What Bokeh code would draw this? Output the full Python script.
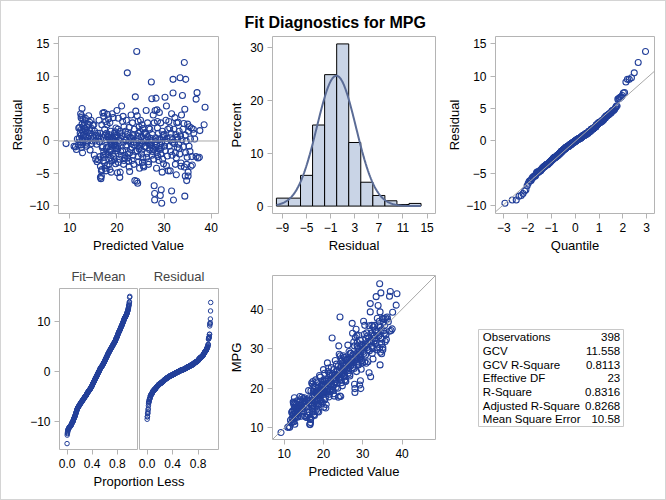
import numpy as np
from statistics import NormalDist
from bokeh.plotting import figure
from bokeh.layouts import row, column
from bokeh.models import Range1d, Span, Slope, PrintfTickFormatter, FixedTicker, Title, InlineStyleSheet
from bokeh.embed import file_html
from bokeh.resources import INLINE
from bokeh.core.properties import value

# ---------------- data ----------------
predicted = [
    9.2, 10.9, 11.2, 11.4, 11.6, 11.8, 11.9,
    12.0, 12.1, 12.2, 12.3, 12.3, 12.4, 12.4, 12.5, 12.5, 12.6, 12.6, 12.7, 12.7, 12.8, 12.8, 12.9, 12.9, 12.2, 12.5, 12.7,
    13.0, 13.1, 13.2, 13.3, 13.4, 13.4, 13.5, 13.6, 13.6, 13.7, 13.8, 13.9, 13.2, 13.5,
    14.0, 14.1, 14.2, 14.3, 14.4, 14.5, 14.5, 14.6, 14.7, 14.8, 14.9, 14.2,
    15.0, 15.1, 15.2, 15.3, 15.4, 15.5, 15.6, 15.7, 15.8, 15.9,
    16.0, 16.1, 16.2, 16.3, 16.4, 16.5, 16.5, 16.6, 16.6, 16.7, 16.7, 16.8, 16.8, 16.9, 16.4, 16.2,
    17.0, 17.0, 17.1, 17.1, 17.2, 17.2, 17.3, 17.3, 17.4, 17.4, 17.5, 17.5, 17.6, 17.6, 17.7, 17.7, 17.8, 17.8, 17.9, 17.9, 17.1, 17.8,
    18.0, 18.1, 18.1, 18.2, 18.2, 18.3, 18.3, 18.4, 18.4, 18.5, 18.5, 18.6, 18.6, 18.7, 18.7, 18.8, 18.8, 18.9, 18.9, 18.0, 18.6, 18.8,
    19.0, 19.1, 19.1, 19.2, 19.3, 19.3, 19.4, 19.5, 19.5, 19.6, 19.6, 19.7, 19.7, 19.8, 19.8, 19.9, 19.9, 19.4, 19.6, 19.9,
    20.0, 20.1, 20.1, 20.2, 20.2, 20.3, 20.4, 20.5, 20.5, 20.6, 20.6, 20.7, 20.8, 20.8, 20.9, 20.3, 20.7, 20.1,
    21.0, 21.1, 21.2, 21.3, 21.4, 21.5, 21.5, 21.6, 21.7, 21.8, 21.9, 21.2, 21.4, 21.7, 21.9,
    22.0, 22.1, 22.2, 22.3, 22.4, 22.5, 22.5, 22.6, 22.7, 22.8, 22.9, 22.3, 22.6, 22.7, 22.2,
    23.0, 23.1, 23.2, 23.3, 23.4, 23.5, 23.5, 23.6, 23.7, 23.8, 23.9, 23.9, 23.2, 23.4, 23.6, 23.0,
    24.0, 24.1, 24.2, 24.2, 24.3, 24.3, 24.4, 24.4, 24.5, 24.5, 24.6, 24.6, 24.7, 24.8, 24.8, 24.9, 24.5, 24.7, 24.9,
    25.0, 25.1, 25.2, 25.3, 25.4, 25.5, 25.5, 25.6, 25.7, 25.8, 25.9, 25.2, 25.4, 25.6, 25.8, 25.1,
    26.0, 26.1, 26.2, 26.3, 26.4, 26.5, 26.6, 26.7, 26.8, 26.9, 26.3, 26.5, 26.7, 26.2, 26.9,
    27.0, 27.1, 27.2, 27.3, 27.4, 27.4, 27.5, 27.6, 27.7, 27.8, 27.9, 27.9, 28.0, 28.0, 27.3, 27.6, 27.2, 27.8,
    28.1, 28.2, 28.3, 28.4, 28.5, 28.5, 28.6, 28.7, 28.8, 28.9, 28.2, 28.4, 28.6, 28.8, 28.3, 28.7,
    29.0, 29.1, 29.2, 29.2, 29.3, 29.4, 29.5, 29.5, 29.6, 29.7, 29.8, 29.9, 29.1, 29.3, 29.6, 29.8, 29.4,
    30.0, 30.1, 30.2, 30.3, 30.4, 30.5, 30.5, 30.6, 30.7, 30.8, 30.9, 30.3, 30.6,
    31.0, 31.1, 31.2, 31.3, 31.4, 31.5, 31.6, 31.6, 31.7, 31.8, 31.9, 31.9, 31.3, 32.0, 31.8,
    32.1, 32.2, 32.3, 32.4, 32.5, 32.6, 32.7, 32.8, 32.9, 32.4, 32.6, 32.8,
    33.0, 33.1, 33.2, 33.3, 33.4, 33.5, 33.6, 33.7, 33.8, 33.9, 33.2, 33.6,
    34.0, 34.1, 34.2, 34.3, 34.4, 34.4, 34.5, 34.6, 34.6, 34.7, 34.8, 34.9, 34.3, 34.5, 34.8,
    35.0, 35.1, 35.1, 35.2, 35.3, 35.4, 35.5, 35.6, 35.7, 35.8, 35.9,
    36.0, 36.2, 36.5, 36.8, 36.8, 36.3,
    37.0, 37.5, 37.6, 37.2,
    38.5, 38.7,
]
residual = [
    -0.4, -0.8, -0.9, -1.3, 0.3, -0.6, 2.0,
    0.4, 2.1, 1.2, -0.6, 4.2, 3.6, 0.9, 1.8, -1.0, 5.0, 2.6, 1.5, 0.2, 3.3, -0.3, 2.2, 0.8, -0.1, 3.9, -1.8,
    1.0, 2.8, 0.3, 3.5, 1.6, -0.5, 0.6, 2.2, -0.2, 1.3, 0.0, 2.6, 1.9, -0.8,
    3.9, 0.8, 2.9, -1.4, 1.2, 0.4, 3.2, -0.4, 1.9, 0.0, 2.4, 1.6,
    0.5, 2.5, -2.2, 1.5, 0.0, -2.8, 0.9, -0.5, -3.2, 1.2,
    0.8, -2.9, 3.2, -0.1, 1.2, -3.9, -5.6, -5.8, 0.3, -4.6, -5.4, -4.4, 2.5, -1.0, -2.4, 0.6,
    4.3, -0.8, 0.5, -3.0, 3.8, -1.6, 4.4, -2.5, 1.8, -3.4, 0.9, -4.2, 3.0, -2.0, 0.2, -4.6, 1.2, -1.2, 2.5, -3.8, -2.2, -1.0,
    4.1, 0.6, -2.1, 3.4, -0.9, 1.0, -3.6, 0.3, -1.7, 2.8, -4.4, 0.0, -1.3, 1.5, -2.6, -0.3, -4.8, -0.6, -3.1, 0.8, -1.5, 0.4,
    4.2, 0.5, -2.0, 3.6, 0.2, -2.4, -0.1, 1.2, -2.9, -0.4, 0.8, -1.0, -3.5, 2.0, -0.7, -1.5, 0.6, -0.6, 1.4, -1.2,
    4.7, 0.9, -4.9, 1.8, -1.2, 3.5, 0.1, -0.3, -2.8, -5.6, 1.2, -4.8, 0.4, -1.6, -2.2, -3.3, 1.5, -0.8,
    5.4, 0.8, -1.5, 3.8, -0.2, 2.2, -3.0, 0.3, -2.2, 1.5, -0.8, 3.0, -3.6, -2.6, 0.1,
    3.2, -0.6, 10.5, 1.3, -2.0, 0.0, -3.1, 2.1, -4.7, 0.6, -1.3, -2.6, -4.0, -1.8, 1.0,
    4.0, 0.4, -1.0, 2.8, -2.2, 1.0, -0.2, -3.6, 1.8, -6.1, 6.8, -1.6, -3.0, 0.8, -0.6, -0.4,
    4.6, -0.3, 13.8, -6.2, 3.9, -1.5, -6.5, 0.8, 3.0, -2.4, 0.2, -3.2, 2.2, -0.8, -4.2, 1.5, 1.2, -1.2, -0.5,
    3.2, 0.6, -1.4, 2.5, -0.4, 1.9, -2.6, 0.0, -4.0, 1.2, -0.9, -2.0, -3.3, -3.8, 0.3, -0.2,
    1.3, -0.8, 4.7, 0.2, -1.9, 2.8, -0.3, -3.2, 2.0, -1.3, -2.5, 0.7, -3.6, 1.0, -0.6,
    1.8, -0.6, 0.4, 9.1, 6.5, -2.2, 1.0, -1.1, 4.0, -2.8, -6.9, 2.8, -8.1, -9.1, -0.2, -1.6, 0.0, -1.3,
    4.7, 0.5, 6.6, -0.6, 4.8, -1.8, 2.0, -2.4, 1.2, -3.0, -0.1, -4.2, 3.0, -1.2, -1.0, 0.2,
    4.4, 0.3, -8.4, -1.3, 2.8, -7.5, -9.6, -0.2, 1.5, -2.8, 0.9, -3.5, -0.7, -2.0, -4.8, 0.5, -1.0,
    1.0, -0.8, 6.75, -1.5, 3.2, 5.4, -3.8, 0.4, -2.3, 1.8, -4.6, -0.2, 0.0,
    3.0, -0.8, 2.0, 0.5, -1.6, 1.2, -7.7, 4.2, -2.2, -0.2, 7.4, 9.5, -4.6, -9.1, 0.2,
    1.8, -0.4, 3.6, -1.8, 1.0, -2.6, 2.8, -1.0, 0.3, -3.6, -5.2, 0.6,
    2.9, -0.5, 1.5, -2.0, 9.75, 0.8, -3.4, 4.0, 0.2, 7.0, -1.2, -3.9,
    1.8, -0.9, 2.7, 12.1, 4.9, -8.5, 0.9, 9.5, -1.8, 0.0, -6.1, -2.5, -4.0, -5.4, -3.6,
    2.6, -4.8, -5.4, 1.5, -0.8, 2.2, -1.6, 0.3, -3.9, 2.0, -2.4,
    -3.7, 1.8, 0.3, 6.45, -2.4, 1.2,
    7.45, -2.5, 1.6, -2.6,
    2.5, 5.2,
]
assert len(predicted) == len(residual)

# histogram of residuals (percent per bin of width 2)
hist_bin_start = [-10, -8, -6, -4, -2, 0, 2, 4, 6, 8, 10, 12]
hist_percent = [1.5, 1.5, 5.8, 15.3, 24.8, 30.6, 12.0, 4.5, 2.0, 1.0, 0.3, 0.5]
hist_bin_width = 2

stat_labels = ["Observations", "GCV", "GCV R-Square", "Effective DF",
               "R-Square", "Adjusted R-Square", "Mean Square Error"]
stat_values = ["398", "11.558", "0.8113", "23", "0.8316", "0.8268", "10.58"]

# ---------------- styling ----------------
FONT = "Liberation Sans"
MARK = "#223F99"
REF = "#A8A8A8"
FRAME = "#B4B4B4"
HIST_FILL = "#C9D4E6"
CURVE = "#5B6C96"

pred = np.array(predicted)
res = np.array(residual)
mpg = pred + res
mu = float(res.mean())
sigma = float(res.std(ddof=1))
n = len(res)


def base_fig(width, height, xr, yr, left, right, top, bottom, x_axis=True, y_axis=True, title=None):
    kw = {}
    if title is not None:
        kw["title"] = title
    p = figure(width=width, height=height, x_range=Range1d(*xr), y_range=Range1d(*yr),
               output_backend="svg", toolbar_location=None,
               x_axis_location="below" if x_axis else None,
               y_axis_location="left" if y_axis else None,
               min_border_left=left, min_border_right=right,
               min_border_top=top, min_border_bottom=bottom, **kw)
    p.xgrid.visible = False
    p.ygrid.visible = False
    p.outline_line_color = FRAME
    p.outline_line_width = 1
    p.background_fill_color = "white"
    p.border_fill_color = "white"
    for ax in p.xaxis + p.yaxis:
        ax.axis_line_color = None
        ax.major_tick_in = 0
        ax.major_tick_out = 5
        ax.major_tick_line_color = FRAME
        ax.minor_tick_line_color = None
        ax.major_label_text_font = FONT
        ax.major_label_text_font_size = "12px"
        ax.major_label_text_color = "black"
        ax.major_label_standoff = 4
        ax.axis_label_text_font = FONT
        ax.axis_label_text_font_size = "13px"
        ax.axis_label_text_font_style = "normal"
        ax.axis_label_text_color = "black"
        ax.axis_label_standoff = 3
    return p


# ---------- Panel 1: residual vs predicted ----------
p1 = base_fig(222, 255, (7.6, 41.55), (-11.17, 16.1), 58, 4, 36, 40)
p1.xaxis.ticker = [10, 20, 30, 40]
p1.yaxis.ticker = [-10, -5, 0, 5, 10, 15]
p1.xaxis.axis_label = "Predicted Value"
p1.yaxis.axis_label = "Residual"
p1.yaxis.axis_label_standoff = 1
p1.add_layout(Span(location=0, dimension="width", line_color=REF, line_width=1))
p1.scatter(pred, res, marker="circle", size=6, fill_color=None, line_color=MARK, line_width=1.1)

# ---------- Panel 2: histogram ----------
main_title = Title(text="Fit Diagnostics for MPG", align="left", offset=-28,
                   text_font=FONT, text_font_size="16px", text_font_style="bold",
                   text_color="black", standoff=12)
p2 = base_fig(222, 255, (-10.65, 16.4), (-1.4, 32.0), 50, 9, 36, 40, title=main_title)
p2.xaxis.ticker = [-9, -5, -1, 3, 7, 11, 15]
p2.yaxis.ticker = [0, 10, 20, 30]
p2.xaxis.axis_label = "Residual"
p2.yaxis.axis_label = "Percent"
hs = np.array(hist_bin_start, dtype=float)
p2.quad(left=hs, right=hs + hist_bin_width, bottom=0, top=hist_percent,
        fill_color=HIST_FILL, line_color="black", line_width=1)
nd = NormalDist(mu, sigma)
cx = np.linspace(hist_bin_start[0], hist_bin_start[-1] + hist_bin_width, 200)
cy = [100.0 * hist_bin_width * nd.pdf(v) for v in cx]
p2.line(cx, cy, line_color=CURVE, line_width=2)

# ---------- Panel 3: Q-Q plot ----------
p3 = base_fig(222, 255, (-3.35, 3.33), (-11.17, 16.1), 49, 12, 36, 40)
p3.xaxis.ticker = [-3, -2, -1, 0, 1, 2, 3]
p3.yaxis.ticker = [-10, -5, 0, 5, 10, 15]
p3.xaxis.axis_label = "Quantile"
p3.yaxis.axis_label = "Residual"
p3.yaxis.axis_label_standoff = 1
res_sorted = np.sort(res)
quant = [NormalDist().inv_cdf((i + 1 - 0.375) / (n + 0.25)) for i in range(n)]
p3.add_layout(Slope(gradient=sigma, y_intercept=mu, line_color=REF, line_width=1))
p3.scatter(quant, res_sorted, marker="circle", size=6, fill_color=None, line_color=MARK, line_width=1.1)

# ---------- Panel 4: residual-fit spread ----------
prop = np.arange(n) / n
fit_mean_sorted = np.sort(pred - pred.mean())
yr4 = (-15.66, 16.6)
p4a = base_fig(138, 217, (-0.12, 1.12), yr4, 59, 1, 33, 23, title="Fit\u2013Mean")
p4b = base_fig(84, 217, (-0.12, 1.12), yr4, 1, 4, 33, 23, y_axis=False, title="Residual")
for p in (p4a, p4b):
    p.title.align = "center"
    p.title.text_font = FONT
    p.title.text_font_size = "13px"
    p.title.text_font_style = "normal"
    p.title.standoff = 9
    p.xaxis.ticker = [0.0, 0.4, 0.8]
    p.xaxis.formatter = PrintfTickFormatter(format="%.1f")
p4a.yaxis.ticker = [-10, 0, 10]
p4a.scatter(prop, fit_mean_sorted, marker="circle", size=4.5, fill_color=None, line_color=MARK, line_width=1)
p4b.scatter(prop, res_sorted, marker="circle", size=4.5, fill_color=None, line_color=MARK, line_width=1)

p4lab = figure(width=222, height=28, x_range=Range1d(0, 1), y_range=Range1d(0, 1),
               output_backend="svg", toolbar_location=None, y_axis_location=None,
               min_border_left=59, min_border_right=4, min_border_top=0, min_border_bottom=27)
p4lab.outline_line_color = None
p4lab.xgrid.visible = False
p4lab.ygrid.visible = False
ax = p4lab.xaxis[0]
ax.ticker = FixedTicker(ticks=[])
ax.axis_line_color = None
ax.major_tick_out = 0
ax.major_tick_in = 0
ax.minor_tick_line_color = None
ax.major_label_standoff = 0
ax.major_label_text_font_size = "0px"
ax.axis_label = "Proportion Less"
ax.axis_label_text_font = FONT
ax.axis_label_text_font_size = "13px"
ax.axis_label_text_font_style = "normal"
ax.axis_label_text_color = "black"
ax.axis_label_standoff = 0

# ---------- Panel 5: observed vs predicted ----------
p5 = base_fig(222, 245, (7.03, 48.5), (7.03, 48.5), 50, 9, 20, 61)
p5.xaxis.ticker = [10, 20, 30, 40]
p5.yaxis.ticker = [10, 20, 30, 40]
p5.xaxis.axis_label = "Predicted Value"
p5.yaxis.axis_label = "MPG"
p5.add_layout(Slope(gradient=1, y_intercept=0, line_color=REF, line_width=1))
p5.scatter(pred, mpg, marker="circle", size=6, fill_color=None, line_color=MARK, line_width=1.1)

# ---------- Panel 6: fit statistics table ----------
# frame covers y pixels 20..184 of this figure (aligned with panel 5), so the
# y range is expressed in the figure's own pixel rows
p6 = figure(width=222, height=245, x_range=Range1d(0, 222), y_range=Range1d(184, 20),
            output_backend="svg", toolbar_location=None,
            x_axis_location=None, y_axis_location=None,
            min_border_left=0, min_border_right=0, min_border_top=20, min_border_bottom=61)
p6.outline_line_color = None
p6.xgrid.visible = False
p6.ygrid.visible = False
rows_y = [81.7 + 13.7 * i for i in range(len(stat_labels))]
p6.quad(left=34, right=179, top=74, bottom=171, fill_color=None, line_color="#C8C8C8", line_width=1)
p6.text(x=[38.3] * len(stat_labels), y=rows_y, text=stat_labels, text_align="left",
        text_baseline="middle", text_font=value(FONT), text_font_size="11.5px", text_color="black")
p6.text(x=[175.7] * len(stat_values), y=rows_y, text=stat_values, text_align="right",
        text_baseline="middle", text_font=value(FONT), text_font_size="11.5px", text_color="black")

frame_css = InlineStyleSheet(css="""
:host { position: relative; }
:host::after {
  content: "";
  position: absolute;
  left: 0; top: 0; right: 0; bottom: 0;
  border: 1px solid #D4D4D4;
  pointer-events: none;
  z-index: 1000;
}
""")

layout = column(
    row(p1, p2, p3),
    row(column(row(p4a, p4b), p4lab), p5, p6),
    stylesheets=[frame_css],
)

open("out.html", "w").write(file_html(layout, INLINE))
